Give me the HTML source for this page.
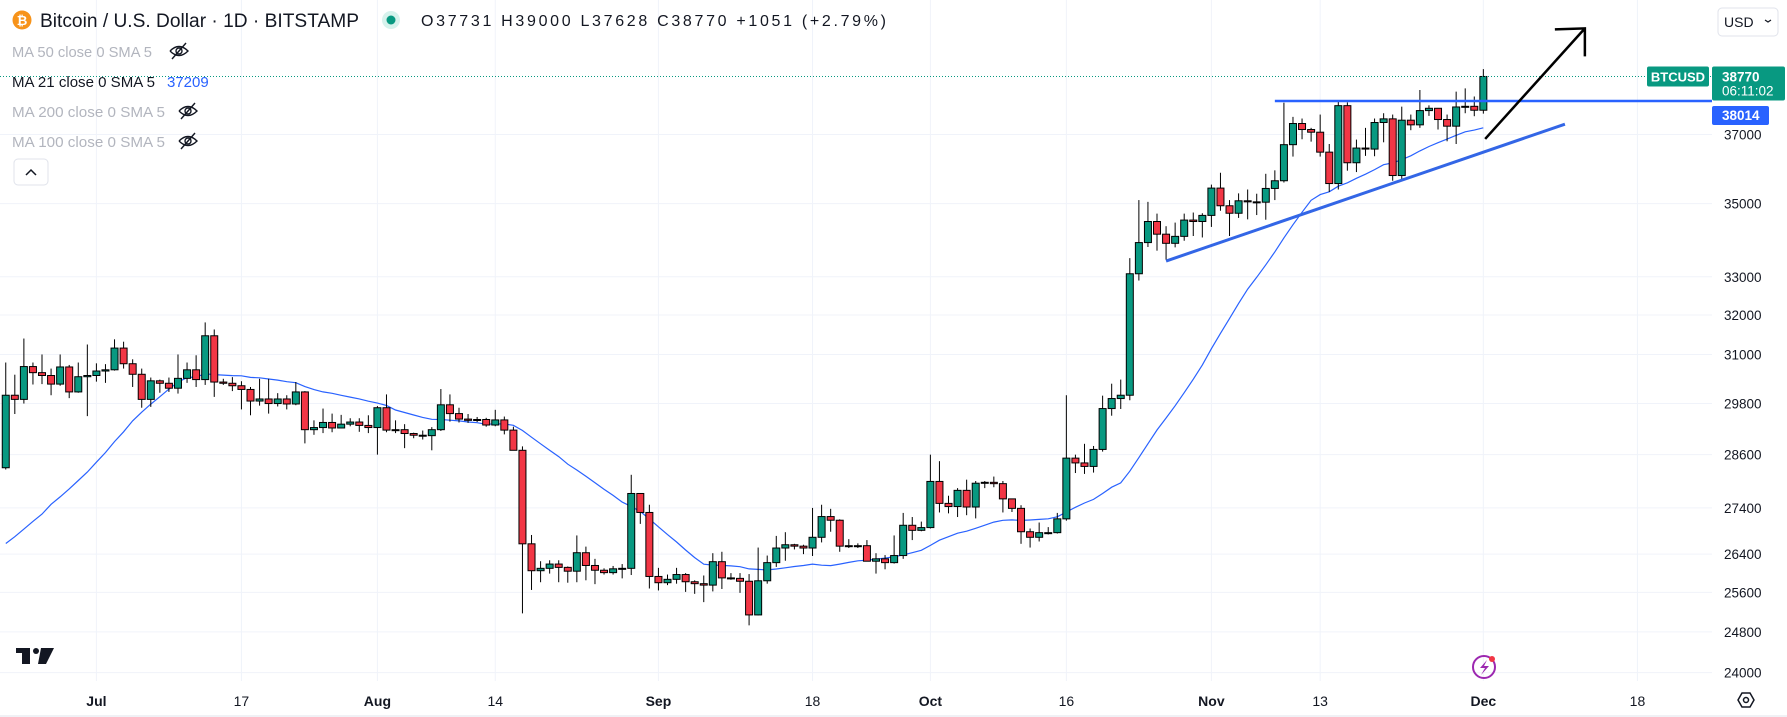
<!DOCTYPE html>
<html><head><meta charset="utf-8"><style>
html,body{margin:0;padding:0;background:#fff;overflow:hidden}
body{width:1787px;height:717px;position:relative;font-family:"Liberation Sans",sans-serif}
svg text{font-family:"Liberation Sans",sans-serif}
</style></head><body>
<svg id="chart" width="1787" height="717" viewBox="0 0 1787 717" xmlns="http://www.w3.org/2000/svg">
<g id="grid"></g>
<g id="ma"></g>
<g id="candles"></g>
<g id="draw"></g>
<g id="axes"></g>
<g id="legend">
  <circle cx="22" cy="20" r="9.5" fill="#f7931a"/>
  <text x="22" y="25" font-size="13" fill="#fff" text-anchor="middle" font-weight="bold">₿</text>
  <text x="40" y="27" font-size="19" fill="#131722" textLength="319" lengthAdjust="spacingAndGlyphs">Bitcoin / U.S. Dollar · 1D · BITSTAMP</text>
  <circle cx="391" cy="20" r="9" fill="#d6f2ec"/>
  <circle cx="391" cy="20" r="4.5" fill="#089981"/>
  <text x="421" y="26" font-size="16" fill="#131722" textLength="465" lengthAdjust="spacing">O37731 H39000 L37628 C38770 +1051 (+2.79%)</text>
  <text x="12" y="57" font-size="15" fill="#b2b5be" textLength="140" lengthAdjust="spacingAndGlyphs">MA 50 close 0 SMA 5</text>
  <text x="12" y="87" font-size="15" fill="#131722" textLength="143" lengthAdjust="spacingAndGlyphs">MA 21 close 0 SMA 5</text>
  <text x="167" y="87" font-size="15" fill="#2962ff">37209</text>
  <text x="12" y="117" font-size="15" fill="#b2b5be" textLength="153" lengthAdjust="spacingAndGlyphs">MA 200 close 0 SMA 5</text>
  <text x="12" y="147" font-size="15" fill="#b2b5be" textLength="153" lengthAdjust="spacingAndGlyphs">MA 100 close 0 SMA 5</text>
  <rect x="14" y="159" width="34" height="26" rx="4" fill="#fff" stroke="#e0e3eb"/>
  <path d="M26 175 L31 170 L36 175" fill="none" stroke="#131722" stroke-width="1.5"/>
  <rect x="1718" y="8" width="60" height="28" rx="4" fill="#fff" stroke="#e0e3eb"/>
  <text x="1724" y="27" font-size="14" fill="#131722">USD</text>
  <path d="M1765 20 L1768 22 L1771 20" fill="none" stroke="#131722" stroke-width="1.2"/>
</g>
</svg>
<script>
const tickPrices = [37000,35000,33000,32000,31000,29800,28600,27400,26400,25600,24800,24000];
const timeTickDays = [0,16,31,44,62,79,92,107,123,135,153,170];
const timeTickLabels = ["Jul","17","Aug","14","Sep","18","Oct","16","Nov","13","Dec","18"];
const timeTickBold = [true,false,true,false,true,false,true,false,true,false,true,false];
const firstDay = -10;
const priorCloses = [26820,27250,27070,27120,25740,27230,26340,26480,26480,25850,25940,25900,25920,25110,25580,26330,26510,26340,26840,28310];
const closes = [30000,29900,30700,30550,30480,30270,30690,30080,30450,30480,
30590,30620,31160,30770,30510,29900,30350,30290,30170,30410,30620,30380,31470,30320,30290,30230,30140,29860,29910,29800,29910,29790,30080,29180,29230,29350,29220,29310,29360,29280,29230,
29700,29170,29180,29090,29050,29040,29180,29770,29560,29430,29400,29420,29290,29410,29170,28700,26620,26050,26100,26190,26120,26040,26430,26160,26060,26010,26090,26100,27720,27300,25930,
25800,25870,25970,25820,25780,25750,26240,25900,25890,25830,25140,25840,26220,26530,26600,26570,26530,26760,27210,27130,26570,26580,26580,26250,26300,26220,26370,27020,26910,26970,
27990,27500,27430,27790,27420,27950,27970,27940,27600,27390,26880,26760,26860,26860,27160,28520,28410,28330,28720,29680,29920,30000,33080,33920,34500,34150,33900,34090,34540,34500,34670,
35440,34940,34730,35080,35050,35040,35430,35650,36700,37330,37150,37070,36480,35570,37870,36170,36600,36570,37360,37470,35800,37430,37290,37720,37790,37450,37250,37830,37850,37731,
38770];
const opens = [28300].concat(closes.slice(0,-1));
const highs = [30800,30500,31400,30800,31000,30650,31000,30740,30800,31250,
30780,30760,31380,31320,30880,30650,30430,30380,30430,31000,30800,30980,31810,31630,30400,30440,30340,30200,30400,30400,30050,30000,30320,30100,29400,29680,29560,29530,29450,29450,29520,
29740,30020,29400,29310,29110,29160,29240,30150,30020,29700,29550,29480,29460,29650,29490,29250,28790,26810,26250,26270,26270,26140,26800,26560,26300,26100,26150,26190,28140,27580,27470,
26110,25970,26110,26000,25850,25950,26420,26450,26000,26000,25980,26540,26370,26790,26870,26620,26600,27400,27470,27380,27150,26720,26630,26700,26420,26380,26800,27290,27200,27100,
28600,28450,27670,27840,28030,28000,28000,28100,28000,27490,27460,26950,27080,26980,27290,30000,28600,28850,28800,29990,30280,30380,33500,35100,35050,34720,34370,34470,34720,34750,34730,
35540,35880,35100,35290,35400,35280,35850,35950,37960,37530,37480,37200,37600,36720,38000,37970,36850,37200,37480,37640,37600,37840,37600,38350,37880,37800,37600,38300,38400,38150,
39000];
const lows = [28260,29550,29800,30260,30270,30000,30230,29930,30060,29500,
30330,30300,30600,30650,30200,29700,29720,30060,30080,30040,30300,30200,30250,29960,30250,30100,29660,29520,29750,29560,29730,29660,29760,28860,29060,29100,29120,29210,29260,29130,29100,
28600,29120,29100,28750,28980,28950,28700,29150,29370,29350,29340,29360,29250,29260,29070,28700,25170,25650,25810,25990,25810,25800,25810,25850,25770,25970,25970,25890,25960,27050,25680,
25640,25750,25780,25610,25570,25400,25620,25670,25860,25590,24930,25130,25780,26130,26260,26500,26400,26360,26650,26880,26450,26530,26530,26250,25990,26080,26200,26300,26700,26890,
26950,27300,27280,27200,27240,27170,27840,27860,27300,27310,26620,26540,26670,26820,26840,27120,28180,28160,28190,28670,29510,29670,29880,32900,33800,33700,33460,33790,33970,34100,34060,
34350,34800,34100,34600,34560,34680,34550,35100,35600,36350,36860,36790,36350,35330,35400,35940,35900,36370,36360,36770,35650,35700,37130,37200,37560,37150,36800,36720,37640,37550,
37628];
const resistancePrice = 38014;
const resistanceStartDay = 130;
const trendDays = [118, 162];
const trendPrices = [33420, 37310];
const arrowDays = [153.2, 164.2];
const arrowPrices = [36870, 40300];

const NS = "http://www.w3.org/2000/svg";
const PLOT_R = 1712;
function xScale(d){ return 96.4 + 9.065*d; }
function yScale(p){ return 672.6 - 1243*Math.log(p/24000); }
function mk(tag, attrs, parent){
  const e = document.createElementNS(NS, tag);
  for (const k in attrs) e.setAttribute(k, attrs[k]);
  parent.appendChild(e); return e;
}
const grid = document.getElementById('grid');
const axes = document.getElementById('axes');
const candles = document.getElementById('candles');
const maG = document.getElementById('ma');
const draw = document.getElementById('draw');

tickPrices.forEach(p => {
  const y = yScale(p);
  const l = mk('line', {x1:0, x2:PLOT_R, y1:y, y2:y, stroke:'#f0f3fa', 'stroke-width':1}, grid);
  
  
  const t = mk('text', {x:1724, y:y+5, 'font-size':13.5, fill:'#131722'}, axes);
  t.textContent = p;
  
  
});
timeTickDays.forEach((d, i) => {
  const x = xScale(d);
  if (x < PLOT_R) {
    const l = mk('line', {x1:x, x2:x, y1:0, y2:681, stroke:'#f0f3fa', 'stroke-width':1}, grid);
    
    
  }
  const t = mk('text', {x:x, y:706, 'font-size':14, fill:'#131722', 'text-anchor':'middle', 'font-weight': timeTickBold[i] ? 'bold':'normal'}, axes);
  t.textContent = timeTickLabels[i];
  
  
});

const allCloses = priorCloses.concat(closes);
let pts = [];
for (let i = 0; i < closes.length; i++) {
  const j = i + priorCloses.length;
  let s = 0; for (let k = j-20; k <= j; k++) s += allCloses[k];
  pts.push(xScale(firstDay+i).toFixed(1) + ',' + yScale(s/21).toFixed(1));
}
const maLine = mk('polyline', {points: pts.join(' '), fill:'none', stroke:'#2962ff', 'stroke-width':1.2}, maG);



for (let i = 0; i < closes.length; i++) {
  const x = xScale(firstDay+i);
  const o = opens[i], c = closes[i];
  const up = c >= o;
  const g = mk('g', {}, candles);
  
  
  mk('line', {x1:x, x2:x, y1:yScale(highs[i]), y2:yScale(lows[i]), stroke:'#000', 'stroke-width':1}, g);
  const yt = yScale(Math.max(o,c)), yb = yScale(Math.min(o,c));
  mk('rect', {x:x-3.5, y:yt, width:7, height:Math.max(1, yb-yt), fill: up ? '#089981':'#f23645', stroke:'#000', 'stroke-width':1}, g);
}

const lastY = yScale(closes[closes.length-1]);
const dl = mk('line', {x1:0, x2:PLOT_R, y1:lastY, y2:lastY, stroke:'#089981', 'stroke-width':1, 'stroke-dasharray':'1,2'}, draw);



const ry = yScale(resistancePrice);
const rl = mk('line', {x1:xScale(resistanceStartDay), x2:PLOT_R, y1:ry, y2:ry, stroke:'#2962ff', 'stroke-width':2.5}, draw);


const tl = mk('line', {x1:xScale(trendDays[0]), y1:yScale(trendPrices[0]), x2:xScale(trendDays[1]), y2:yScale(trendPrices[1]), stroke:'#3366e6', 'stroke-width':3}, draw);


const ax1 = xScale(arrowDays[0]), ay1 = yScale(arrowPrices[0]), ax2 = xScale(arrowDays[1]), ay2 = yScale(arrowPrices[1]);
const ar = mk('path', {d:`M${ax1} ${ay1} L${ax2} ${ay2} M${ax2-30} ${ay2+1} L${ax2} ${ay2} L${ax2} ${ay2+28}`, fill:'none', stroke:'#000', 'stroke-width':2.5}, draw);



const lbl = mk('g', {}, draw);


const r1 = mk('rect', {x:1647, y:lastY-10, width:62, height:20, rx:2, fill:'#089981'}, lbl);


const t1 = mk('text', {x:1678, y:lastY+5, 'font-size':13, fill:'#fff', 'text-anchor':'middle', 'font-weight':'bold'}, lbl);
t1.textContent = 'BTCUSD';


const r2 = mk('rect', {x:1712, y:lastY-10, width:73, height:34, rx:2, fill:'#089981'}, lbl);


const t2 = mk('text', {x:1722, y:lastY+5, 'font-size':13.5, fill:'#fff', 'font-weight':'bold'}, lbl);
t2.textContent = String(closes[closes.length-1]);


const t3 = mk('text', {x:1722, y:lastY+19, 'font-size':13.5, fill:'#fff'}, lbl);
t3.textContent = '06:11:02';


const r3 = mk('rect', {x:1712, y:ry+5, width:57, height:19, rx:2, fill:'#2962ff'}, lbl);


const t4 = mk('text', {x:1722, y:ry+19, 'font-size':13.5, fill:'#fff', 'font-weight':'bold'}, lbl);
t4.textContent = String(resistancePrice);



[[179,51],[188,111],[188,141]].forEach(([cx,cy]) => {
  const g = mk('g', {fill:'none', stroke:'#131722', 'stroke-width':1.4}, document.getElementById('legend'));
  
  
  mk('path', {d:`M${cx-9} ${cy} Q${cx} ${cy-9} ${cx+9} ${cy} Q${cx} ${cy+9} ${cx-9} ${cy}`}, g);
  mk('circle', {cx:cx, cy:cy, r:3}, g);
  mk('line', {x1:cx-7, y1:cy+8, x2:cx+7, y2:cy-8}, g);
});

const logo = mk('g', {fill:'#131722'}, axes);


mk('rect', {x:16, y:648, width:14, height:5}, logo);
mk('rect', {x:22, y:648, width:8, height:16}, logo);
mk('circle', {cx:36, cy:651, r:3}, logo);
mk('path', {d:'M41 648 L54 648 L46 664 L38 664 Z'}, logo);
const bolt = mk('g', {}, axes);


mk('circle', {cx:1484, cy:667, r:11, fill:'none', stroke:'#9c27b0', 'stroke-width':2}, bolt);
mk('path', {d:'M1487 660 L1480 668 L1485 668 L1481 675 L1489 666 L1484 666 Z', fill:'#9c27b0'}, bolt);
mk('circle', {cx:1492, cy:659, r:3, fill:'#f23645'}, bolt);
const gear = mk('path', {d:'M1738 700 L1742 693 L1750 693 L1754 700 L1750 707 L1742 707 Z', fill:'none', stroke:'#131722', 'stroke-width':1.5}, axes);


const gc = mk('circle', {cx:1746, cy:700, r:2.5, fill:'none', stroke:'#131722', 'stroke-width':1.5}, axes);


const bl = mk('line', {x1:0, x2:1787, y1:716, y2:716, stroke:'#e0e3eb'}, axes);


</script>
</body></html>
